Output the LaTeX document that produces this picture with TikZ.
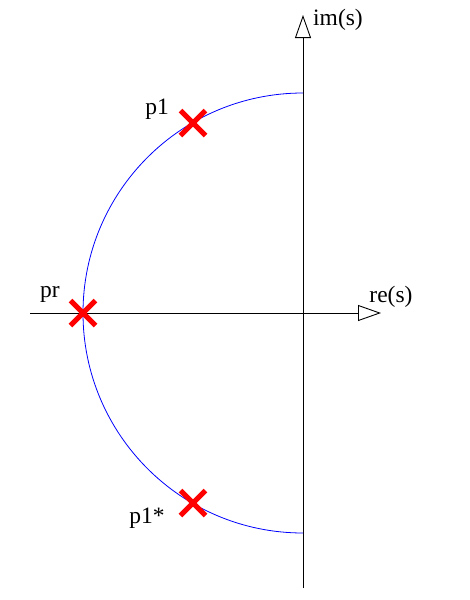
\documentclass[tikz,border=0pt]{standalone}
\usepackage{fontspec}
\setmainfont{Liberation Serif}
\usetikzlibrary{arrows.meta,shapes.misc}
\begin{document}
\begin{tikzpicture}[x=1pt,y=-1pt]
	\tikzstyle{pole}=[cross out,draw=red,line width=5pt,minimum size=20pt,inner sep=0pt]
	\tikzstyle{label}=[font=\fontsize{23.5}{26}\selectfont,inner sep=0pt]
	\tikzstyle{axis}=[draw,line width=0.9pt,-{Triangle[open,length=23pt,width=16pt]}]
	\useasboundingbox (0,0) rectangle (469,600);
	\begin{scope}
		\coordinate (o) at (303,313);
		\coordinate (xs) at (30,313);
		\coordinate (xe) at (381,313);
		\coordinate (ys) at (303,588);
		\coordinate (ye) at (303,15);
		\path[axis] (xs) -- (xe);
		\path[axis] (ys) -- (ye);
		\draw[blue,line width=0.8pt] (303,93) arc[start angle=-90,end angle=-270,radius=220];
		\node [pole] (p1) at (193,123) {};
		\node [pole] (pr) at (83,313) {};
		\node [pole] (p1c) at (193,503) {};
		\node [label] (lp1) at (157,109) {p1};
		\node [label] (lpr) at (50,294) {pr};
		\node [label] (lp1c) at (147,518) {p1*};
		\node [label] (lim) at (338,20) {im(s)};
		\node [label] (lre) at (391,297) {re(s)};
	\end{scope}
\end{tikzpicture}
\end{document}
